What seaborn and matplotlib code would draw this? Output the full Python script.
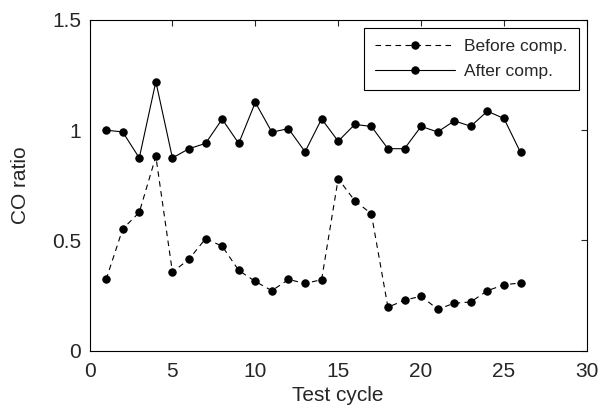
import matplotlib
matplotlib.use("Agg")
import matplotlib.pyplot as plt
import seaborn as sns
import pandas as pd

cycles = list(range(1, 27))
before_comp = [0.323, 0.552, 0.627, 0.881, 0.356, 0.415, 0.508, 0.474, 0.364, 0.314,
               0.272, 0.323, 0.305, 0.322, 0.780, 0.680, 0.621, 0.197, 0.229, 0.247,
               0.188, 0.215, 0.221, 0.272, 0.299, 0.307]
after_comp = [1.000, 0.992, 0.874, 1.220, 0.874, 0.916, 0.940, 1.050, 0.940, 1.126,
              0.991, 1.007, 0.902, 1.051, 0.950, 1.026, 1.017, 0.916, 0.916, 1.017,
              0.992, 1.042, 1.018, 1.086, 1.053, 0.899]
series_names = ["Before comp.", "After comp."]
x_ticks = [0, 5, 10, 15, 20, 25, 30]
y_ticks = [0, 0.5, 1, 1.5]
y_tick_labels = ["0", "0.5", "1", "1.5"]

sns.set_style("white")
plt.rcParams["font.family"] = ["Liberation Sans", "DejaVu Sans"]

df = pd.DataFrame({
    "cycle": cycles * 2,
    "ratio": before_comp + after_comp,
    "series": [series_names[0]] * len(cycles) + [series_names[1]] * len(cycles),
})

fig = plt.figure(figsize=(6.05, 4.15), dpi=100)
ax = fig.add_axes([0.148, 0.155, 0.822, 0.797])

sns.lineplot(data=df, x="cycle", y="ratio", hue="series", style="series",
             palette=["black", "black"], dashes={series_names[0]: (5, 4), series_names[1]: ""},
             markers={series_names[0]: "o", series_names[1]: "o"},
             markersize=5.3, markeredgecolor="black", linewidth=0.8, ax=ax)

ax.set_xlim(0, 30)
ax.set_ylim(0, 1.5)
ax.set_xticks(x_ticks)
ax.set_yticks(y_ticks)
ax.set_yticklabels(y_tick_labels)
ax.tick_params(direction="in", top=True, right=True, length=4, width=0.8,
               labelsize=15)
ax.tick_params(axis="x", pad=8)
ax.tick_params(axis="y", pad=6)
for s in ax.spines.values():
    s.set_color("black")
    s.set_linewidth(0.8)
ax.set_xlabel("Test cycle", fontsize=15, labelpad=4)
ax.set_ylabel("CO ratio", fontsize=15, labelpad=16)

leg = ax.legend(loc="upper right", fontsize=12.5, frameon=True, fancybox=False,
                edgecolor="black", framealpha=1, handlelength=4.6,
                handletextpad=0.55, borderaxespad=0.45, borderpad=0.65,
                labelspacing=0.55)
leg.get_frame().set_linewidth(0.8)

fig.savefig("out.png", dpi=100)
